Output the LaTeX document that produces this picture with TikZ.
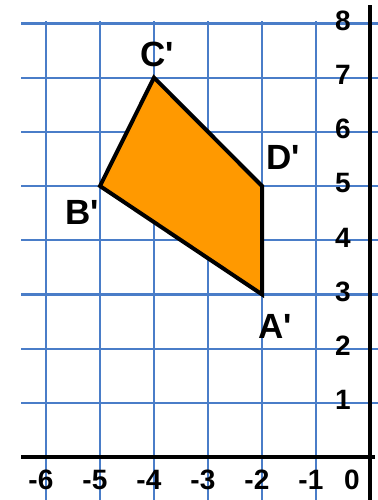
\documentclass[tikz,border=0pt]{standalone}
\usepackage{fontspec}
\newfontfamily\labfont{Liberation Sans}
\definecolor{gridblue}{RGB}{74,125,200}
\definecolor{shapeorange}{RGB}{255,153,0}
\begin{document}
\begin{tikzpicture}[x=54pt,y=54.2pt,
  gridline/.style={draw=gridblue,line width=2.2pt},
  axisline/.style={draw=black,line width=4pt},
  shapeline/.style={draw=black,line width=4pt,fill=shapeorange,line join=miter},
  ticklab/.style={font=\labfont\fontsize{28}{28}\selectfont\bfseries,inner sep=0pt},
  vertlab/.style={font=\labfont\fontsize{35}{35}\selectfont\bfseries,inner sep=0pt}]
\useasboundingbox (-6.852,-0.793) rectangle (0.13,8.432);
% grid
\foreach \i in {-6,...,-1} \draw[gridline] (\i,-0.85) -- (\i,8.05);
\foreach \j in {1,...,8} \draw[gridline] (-6.463,\j) -- (0.2,\j);
% quadrilateral
\coordinate (A) at (-2,3);
\coordinate (B) at (-5,5);
\coordinate (C) at (-4,7);
\coordinate (D) at (-2,5);
\draw[shapeline] (A) -- (B) -- (C) -- (D) -- cycle;
% axes
\coordinate (xl) at (-6.463,0);
\coordinate (xr) at (0.1,0);
\coordinate (yb) at (0,-0.85);
\coordinate (yt) at (0,8.34);
\draw[axisline] (xl) -- (xr);
\draw[axisline] (yb) -- (yt);
% tick labels
\foreach \i in {-6,...,-1} \node[ticklab,anchor=east] (tx\i) at (\i+0.14,-0.42) {\i};
\node[ticklab] (tx0) at (-0.333,-0.42) {0};
\foreach \j in {1,...,8} \node[ticklab] (ty\j) at (-0.5,\j+0.05) {\j};
% vertex labels
\node[vertlab] (lC) at (-3.944,7.435) {C'};
\node[vertlab] (lB) at (-5.333,4.52) {B'};
\node[vertlab] (lD) at (-1.611,5.535) {D'};
\node[vertlab] (lA) at (-1.759,2.417) {A'};
\end{tikzpicture}
\end{document}
